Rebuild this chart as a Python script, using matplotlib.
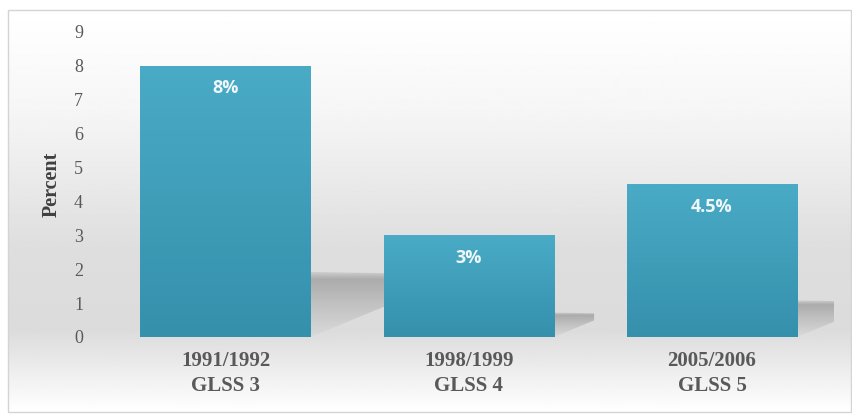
import numpy as np
import matplotlib
matplotlib.use("Agg")
import matplotlib.pyplot as plt
from matplotlib.patches import Rectangle, Polygon
from matplotlib.colors import LinearSegmentedColormap

# Daten
jahre = ["1991/1992", "1998/1999", "2005/2006"]
runden = ["GLSS 3", "GLSS 4", "GLSS 5"]
werte = [8, 3, 4.5]
beschriftung = ["8%", "3%", "4.5%"]
y_ticks = [0, 1, 2, 3, 4, 5, 6, 7, 8, 9]

fig = plt.figure(figsize=(8.52, 4.15), dpi=100)

# Hintergrund mit Verlauf (Pixelkoordinaten)
bg = fig.add_axes([0, 0, 1, 1], zorder=0)
bg.axis("off")
yy = np.linspace(10, 412, 400)
grau = np.interp(yy, [10, 110, 250, 330, 412], [1.0, 0.965, 0.87, 0.86, 1.0])
bild = np.repeat(grau[:, None], 2, axis=1)
bg.imshow(bild, cmap="gray", vmin=0, vmax=1, extent=(8, 851, 412, 10), aspect="auto")
bg.add_patch(Rectangle((8, 10), 843, 402, fill=False, edgecolor="#d4d4d4", lw=1))
bg.set_xlim(0, 852)
bg.set_ylim(415, 0)

ax = fig.add_axes([0.122, 0.188, 0.8565, 0.735], zorder=1)
ax.patch.set_alpha(0)

x = np.arange(len(werte))
breite = 0.70
balken = ax.bar(x, werte, width=breite, color="#3d9db8", zorder=3)

# Verlauf in den Balken
balken_cmap = LinearSegmentedColormap.from_list("b", ["#3590ac", "#4aabc6"])
verlauf = np.linspace(0, 1, 100)[:, None]
for b in balken:
    im = ax.imshow(verlauf, cmap=balken_cmap, origin="lower", aspect="auto",
                   extent=(b.get_x(), b.get_x() + b.get_width(), 0, b.get_height()),
                   zorder=3.5)
    im.set_clip_path(b)

# Schatten hinter den Balken
schatten_cmap = LinearSegmentedColormap.from_list(
    "s", [(0, "#dadada"), (0.55, "#bcbcbc"), (0.88, "#a6a6a6"), (1, "#cfcfcf")])
for b, v in zip(balken, werte):
    r = b.get_x() + b.get_width()
    h = 0.24 * v
    dx = 0.055 * v
    poly = Polygon([(r, 0), (r, h), (r + dx, h * 0.97), (r + dx, h * 0.68)],
                   closed=True, facecolor="none", edgecolor="none")
    ax.add_patch(poly)
    im = ax.imshow(verlauf, cmap=schatten_cmap, origin="lower", aspect="auto",
                   extent=(r, r + dx, 0, h), zorder=2, alpha=0.9)
    im.set_clip_path(poly)

# Wertebeschriftung
for xi, v, t in zip(x, werte, beschriftung):
    ax.annotate(t, (xi, v), xytext=(0, -16), textcoords="offset points",
                ha="center", va="center", color="#eef7fa", fontsize=13,
                fontweight="bold", family="Open Sans", zorder=5)

ax.set_xlim(-0.5, 2.5)
ax.set_ylim(0, 9)
ax.set_yticks(y_ticks)
ax.set_yticklabels([str(t) for t in y_ticks], family="Liberation Serif",
                   fontsize=13, color="#595959")
ax.set_xticks(x)
ax.set_xticklabels([j + "\n" + r for j, r in zip(jahre, runden)],
                   family="Liberation Serif", fontsize=15, fontweight="bold",
                   color="#595959", linespacing=1.35)
ax.tick_params(axis="both", length=0)
ax.tick_params(axis="y", pad=15)
ax.tick_params(axis="x", pad=10)
for s in ax.spines.values():
    s.set_visible(False)

ax.set_ylabel("Percent", family="Liberation Serif", fontsize=14.5,
              fontweight="bold", color="#404040")
ax.yaxis.set_label_coords(-0.058, 0.5)

fig.savefig("out.png", dpi=100)
